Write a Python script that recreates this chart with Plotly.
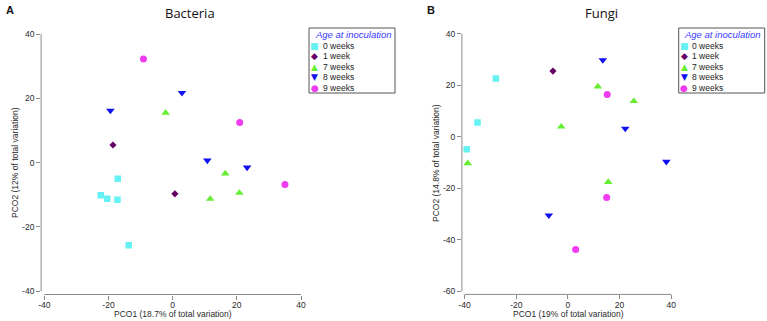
import plotly.graph_objects as go

# ---------------- data ----------------
categories = ["0 weeks", "1 week", "7 weeks", "8 weeks", "9 weeks"]

bact_x = {
    "0 weeks": [-17.1, -22.4, -20.4, -17.2, -13.7],
    "1 week": [-18.6, 0.7],
    "7 weeks": [-2.2, 16.4, 11.7, 20.8],
    "8 weeks": [-19.4, 2.9, 10.8, 23.2],
    "9 weeks": [-9.1, 20.9, 35.0],
}
bact_y = {
    "0 weeks": [-5.0, -10.1, -11.2, -11.5, -25.7],
    "1 week": [5.5, -9.7],
    "7 weeks": [15.5, -3.4, -11.3, -9.4],
    "8 weeks": [16.2, 21.7, 0.7, -1.5],
    "9 weeks": [32.2, 12.5, -6.8],
}
fungi_x = {
    "0 weeks": [-27.9, -35.0, -39.2],
    "1 week": [-5.8],
    "7 weeks": [11.6, 25.5, -2.6, -38.8, 15.6],
    "8 weeks": [13.5, 22.2, 38.1, -7.4],
    "9 weeks": [15.2, 15.0, 3.0],
}
fungi_y = {
    "0 weeks": [22.6, 5.5, -4.8],
    "1 week": [25.5],
    "7 weeks": [19.5, 13.8, 3.9, -10.3, -17.6],
    "8 weeks": [29.8, 3.2, -9.7, -30.5],
    "9 weeks": [16.4, -23.6, -43.8],
}

bact_xticks = [-40, -20, 0, 20, 40]
bact_yticks = [-40, -20, 0, 20, 40]
fungi_xticks = [-40, -20, 0, 20, 40]
fungi_yticks = [-60, -40, -20, 0, 20, 40]

panel_titles = ["Bacteria", "Fungi"]
panel_letters = ["A", "B"]
x_titles = ["PCO1 (18.7% of total variation)", "PCO1 (19% of total variation)"]
y_titles = ["PCO2 (12% of total variation)", "PCO2 (14.8% of total variation)"]
legend_title = "Age at inoculation"

# ---------------- styles ----------------
W, H = 767, 321
colors = {"0 weeks": "#66F2F2", "1 week": "#660066", "7 weeks": "#66EE33",
          "8 weeks": "#1010F0", "9 weeks": "#F03CF0"}
symbols = {"0 weeks": "square", "1 week": "diamond", "7 weeks": "triangle-up",
           "8 weeks": "triangle-down", "9 weeks": "circle"}
sizes = {"0 weeks": 6.5, "1 week": 5.5, "7 weeks": 7.5, "8 weeks": 7.5, "9 weeks": 7}
glyphs = {"0 weeks": "■", "1 week": "◆", "7 weeks": "▲", "8 weeks": "▼", "9 weeks": "●"}

AX = "#8a8a8a"
TXT = "#2a2a2a"
ARIAL = "Arial, Liberation Sans, sans-serif"

def px_x(p):
    return p / W

def px_y(p):
    return 1 - p / H

fig = go.Figure()
for c in categories:
    fig.add_trace(go.Scatter(x=bact_x[c], y=bact_y[c], mode="markers", name=c,
                             marker=dict(symbol=symbols[c], color=colors[c], size=sizes[c], line=dict(width=0)),
                             xaxis="x", yaxis="y", showlegend=False))
for c in categories:
    fig.add_trace(go.Scatter(x=fungi_x[c], y=fungi_y[c], mode="markers", name=c,
                             marker=dict(symbol=symbols[c], color=colors[c], size=sizes[c], line=dict(width=0)),
                             xaxis="x2", yaxis="y2", showlegend=False))

def axis(domain, rng, ticks, anchor, standoff):
    return dict(domain=domain, range=rng, tickvals=ticks, ticktext=[str(t) for t in ticks],
                showgrid=False, zeroline=False, showline=False, ticks="outside", ticklen=4,
                tickcolor=AX, tickwidth=1, tickfont=dict(family=ARIAL, size=8.5, color=TXT),
                ticklabelstandoff=standoff,
                anchor=anchor, automargin=False, fixedrange=True)

fig.update_layout(
    width=W, height=H, margin=dict(l=0, r=0, t=0, b=0),
    paper_bgcolor="white", plot_bgcolor="white",
    xaxis=axis([px_x(41.1), px_x(302.6)], [-41.0, 40.5], bact_xticks, "y", -2),
    yaxis=axis([px_y(294.5), px_y(32.4)], [-41.0, 40.5], bact_yticks, "x", 0),
    xaxis2=axis([px_x(461.9), px_x(672.8)], [-41.05, 40.6], fungi_xticks, "y2", -2),
    yaxis2=axis([px_y(294.4), px_y(32.2)], [-61.2, 40.6], fungi_yticks, "x2", 0),
)

shapes = []
annotations = []
panels = [
    dict(xr="x", yr="y", xt=bact_xticks, yt=bact_yticks, cx=173, tx=190, lx=10, ytx=15, yc=163, box=309),
    dict(xr="x2", yr="y2", xt=fungi_xticks, yt=fungi_yticks, cx=568, tx=601, lx=431, ytx=436, yc=163, box=678.7),
]
for i, p in enumerate(panels):
    # detached axis lines
    shapes.append(dict(type="line", xref=p["xr"], yref=p["yr"] + " domain",
                       x0=p["xt"][0], x1=p["xt"][-1], y0=0, y1=0, line=dict(color=AX, width=1)))
    shapes.append(dict(type="line", xref=p["xr"] + " domain", yref=p["yr"],
                       x0=0, x1=0, y0=p["yt"][0], y1=p["yt"][-1], line=dict(color=AX, width=1)))
    # titles
    annotations.append(dict(text=panel_titles[i], x=px_x(p["tx"]), y=px_y(13), xref="paper", yref="paper",
                            showarrow=False, xanchor="center", yanchor="middle",
                            font=dict(family="Open Sans, sans-serif", size=13, color="#111")))
    annotations.append(dict(text="<b>" + panel_letters[i] + "</b>", x=px_x(p["lx"]), y=px_y(10),
                            xref="paper", yref="paper", showarrow=False, xanchor="center", yanchor="middle",
                            font=dict(family=ARIAL, size=11, color="#111")))
    annotations.append(dict(text=x_titles[i], x=px_x(p["cx"]), y=px_y(314), xref="paper", yref="paper",
                            showarrow=False, xanchor="center", yanchor="middle",
                            font=dict(family=ARIAL, size=8.5, color=TXT)))
    annotations.append(dict(text=y_titles[i], x=px_x(p["ytx"]), y=px_y(p["yc"]), xref="paper", yref="paper",
                            showarrow=False, xanchor="center", yanchor="middle", textangle=-90,
                            font=dict(family=ARIAL, size=8.5, color=TXT)))
    # legend box
    bx = p["box"]
    shapes.append(dict(type="rect", xref="paper", yref="paper", x0=px_x(bx), x1=px_x(bx + 86),
                       y0=px_y(93), y1=px_y(28), line=dict(color="#555", width=1), fillcolor="white", layer="above"))
    annotations.append(dict(text="<i>" + legend_title + "</i>", x=px_x(bx + 3.5), y=px_y(34.5),
                            xref="paper", yref="paper", showarrow=False, xanchor="left", yanchor="middle",
                            font=dict(family=ARIAL, size=9.5, color="#3a3aff")))
    item_y = [45.7, 56.2, 66.7, 77.2, 87.7]
    for j, c in enumerate(categories):
        annotations.append(dict(text=glyphs[c], x=px_x(bx + 5.5), y=px_y(item_y[j]), xref="paper", yref="paper",
                                showarrow=False, xanchor="center", yanchor="middle",
                                font=dict(family="DejaVu Sans", size=9, color=colors[c])))
        annotations.append(dict(text=c, x=px_x(bx + 11.5), y=px_y(item_y[j]), xref="paper", yref="paper",
                                showarrow=False, xanchor="left", yanchor="middle",
                                font=dict(family=ARIAL, size=8.5, color="#222")))

fig.update_layout(shapes=shapes, annotations=annotations)
fig.write_html("out.html", config={"displayModeBar": False},
               post_script="document.body.style.margin='0px';document.body.style.overflow='hidden';")
